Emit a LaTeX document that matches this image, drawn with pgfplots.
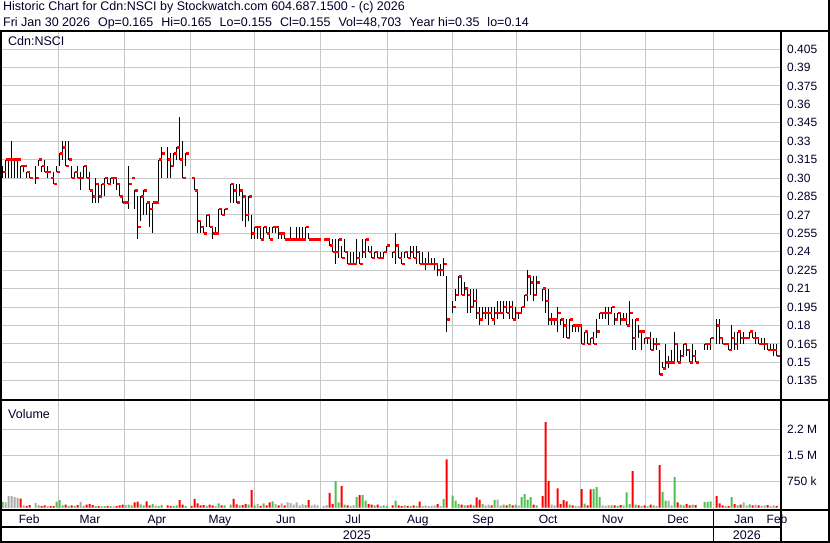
\documentclass[border=0pt]{standalone}
\usepackage{fontspec}
\setmainfont{Liberation Sans}
\usepackage{pgfplots}
\pgfplotsset{compat=1.18}
\usepackage{pgfplotstable}

\definecolor{gridc}{RGB}{200,200,200}
\definecolor{txt}{RGB}{0,0,40}
\definecolor{upc}{RGB}{80,190,80}
\definecolor{dnc}{RGB}{255,0,0}
\definecolor{flatc}{RGB}{170,170,170}

% close tick: small red block to the right of the bar
\pgfdeclareplotmark{ctick}{\pgfpathrectangle{\pgfpoint{0.4pt}{-1.2pt}}{\pgfpoint{2.6pt}{2.4pt}}\pgfusepathqfill}

\pgfplotsset{
  panel/.style={scale only axis, width=780pt, xmin=-0.9, xmax=259.1,
    axis line style={draw=none}, tick style={draw=none}, major tick length=0pt,
    xmajorgrids, ymajorgrids, grid style={gridc, line width=1pt},
    xtick={18.6,40.6,62.6,83.8,105.8,128.3,149.9,171.1,192.7,214.4,237.0},
    xticklabels={}, yticklabel pos=right,
    yticklabel style={anchor=west, inner sep=0pt, xshift=7pt, text=txt,
      font=\fontsize{12}{14}\selectfont}},
  vol/.style={ybar, bar width=2pt, bar shift=0pt, draw=none, forget plot},
}

% trading day k, high, low, close, volume (thousands), colour (0 flat, 1 up, 2 down)
\pgfplotstableread{
k H L C V c
0 0.31 0.30 0.305 160 1
1 0.315 0.30 0.315 150 0
2 0.315 0.30 0.315 330 0
3 0.33 0.30 0.315 330 0
4 0.315 0.30 0.315 300 0
5 0.315 0.30 0.315 280 0
6 0.31 0.30 0.31 260 2
7 0.31 0.305 0.31 60 0
8 0.305 0.30 0.305 50 2
9 0.305 0.30 0.30 70 2
11 0.31 0.295 0.30 130 0
12 0.315 0.31 0.315 60 1
13 0.31 0.305 0.31 40 2
14 0.315 0.305 0.305 60 2
15 0.31 0.30 0.305 40 0
16 0.30 0.30 0.30 50 2
17 0.305 0.295 0.295 40 2
18 0.31 0.305 0.305 170 1
19 0.32 0.31 0.32 210 1
20 0.33 0.315 0.325 60 1
21 0.33 0.31 0.31 80 2
22 0.33 0.315 0.315 40 1
23 0.31 0.30 0.30 60 2
24 0.305 0.30 0.305 50 1
25 0.31 0.30 0.30 70 2
26 0.305 0.29 0.30 160 0
27 0.31 0.30 0.31 50 1
28 0.31 0.30 0.30 80 2
29 0.305 0.29 0.29 100 2
30 0.29 0.28 0.285 70 2
31 0.30 0.28 0.295 40 1
32 0.295 0.28 0.285 40 2
33 0.295 0.285 0.295 30 1
34 0.30 0.285 0.30 40 1
35 0.30 0.295 0.295 50 2
36 0.30 0.295 0.30 40 1
37 0.30 0.295 0.30 30 0
38 0.30 0.29 0.295 40 2
39 0.295 0.285 0.285 60 2
40 0.285 0.28 0.28 80 2
41 0.28 0.28 0.28 70 0
42 0.31 0.275 0.295 80 1
43 0.30 0.30 0.30 60 1
44 0.29 0.275 0.29 150 2
45 0.285 0.25 0.26 170 2
46 0.285 0.265 0.285 90 1
47 0.29 0.27 0.29 60 1
48 0.28 0.27 0.28 180 2
49 0.28 0.26 0.275 60 2
50 0.28 0.255 0.28 100 1
51 0.28 0.28 0.28 60 0
52 0.315 0.28 0.315 50 1
53 0.325 0.30 0.32 70 1
55 0.325 0.30 0.315 60 2
56 0.32 0.30 0.31 40 2
57 0.32 0.31 0.32 50 1
58 0.325 0.315 0.325 60 1
59 0.35 0.315 0.315 210 2
60 0.33 0.30 0.30 80 2
61 0.32 0.31 0.32 40 1
63 0.30 0.30 0.30 50 2
64 0.30 0.29 0.29 250 2
65 0.29 0.255 0.265 120 2
66 0.265 0.255 0.26 60 2
67 0.26 0.255 0.255 70 2
68 0.27 0.26 0.27 50 1
69 0.27 0.26 0.26 80 2
70 0.26 0.25 0.255 60 2
71 0.26 0.255 0.255 40 0
72 0.275 0.255 0.275 120 1
73 0.275 0.27 0.27 60 2
74 0.275 0.27 0.275 60 1
76 0.295 0.28 0.295 80 1
77 0.295 0.28 0.29 250 2
78 0.295 0.28 0.28 90 2
79 0.295 0.285 0.29 60 1
80 0.29 0.265 0.285 70 2
81 0.285 0.26 0.27 100 2
82 0.285 0.265 0.285 80 1
83 0.27 0.25 0.255 500 2
84 0.26 0.25 0.26 60 1
85 0.26 0.25 0.26 100 0
86 0.26 0.25 0.25 50 2
87 0.26 0.25 0.26 120 1
88 0.26 0.255 0.255 60 2
89 0.26 0.25 0.25 150 2
90 0.26 0.255 0.26 180 1
91 0.26 0.255 0.26 100 0
92 0.26 0.25 0.255 60 2
93 0.255 0.25 0.255 120 0
94 0.255 0.25 0.25 60 2
95 0.25 0.25 0.25 150 0
96 0.26 0.25 0.25 130 0
97 0.25 0.25 0.25 80 0
98 0.26 0.25 0.25 150 0
99 0.26 0.25 0.25 60 0
100 0.26 0.25 0.25 90 0
101 0.26 0.25 0.26 70 1
102 0.255 0.25 0.25 210 2
103 0.25 0.25 0.25 60 0
104 0.25 0.25 0.25 80 0
105 0.25 0.25 0.25 60 0
107 0.25 0.25 0.25 50 0
108 0.25 0.25 0.25 70 0
109 0.25 0.245 0.245 420 2
110 0.25 0.24 0.24 100 2
111 0.25 0.23 0.24 760 1
112 0.25 0.235 0.25 150 1
113 0.245 0.235 0.235 615 2
114 0.25 0.24 0.24 80 1
115 0.24 0.23 0.23 60 2
116 0.24 0.23 0.23 50 0
117 0.24 0.23 0.23 70 0
118 0.25 0.23 0.235 300 1
119 0.24 0.23 0.23 355 2
120 0.25 0.235 0.24 355 1
121 0.25 0.235 0.25 200 1
122 0.245 0.24 0.24 100 2
123 0.245 0.235 0.235 80 2
124 0.24 0.235 0.24 60 1
125 0.24 0.235 0.235 80 2
126 0.24 0.235 0.235 40 0
127 0.24 0.235 0.24 60 1
128 0.245 0.24 0.245 50 1
130 0.24 0.235 0.24 60 2
131 0.255 0.23 0.245 200 1
132 0.245 0.235 0.235 60 2
133 0.24 0.23 0.23 40 2
134 0.24 0.235 0.24 60 1
135 0.24 0.235 0.235 50 2
136 0.245 0.235 0.24 40 1
137 0.245 0.235 0.235 60 2
138 0.245 0.23 0.24 50 1
139 0.24 0.23 0.23 170 2
140 0.24 0.23 0.23 50 0
141 0.235 0.225 0.23 60 0
142 0.24 0.23 0.23 40 0
143 0.235 0.23 0.23 50 0
144 0.235 0.225 0.23 60 0
145 0.23 0.22 0.225 100 2
146 0.23 0.22 0.225 40 0
147 0.235 0.22 0.23 240 1
148 0.22 0.175 0.185 1390 2
150 0.20 0.19 0.195 345 1
151 0.21 0.20 0.205 200 1
152 0.22 0.205 0.22 100 1
153 0.22 0.205 0.205 80 2
154 0.215 0.205 0.21 60 1
155 0.21 0.19 0.205 60 2
156 0.21 0.19 0.195 80 2
157 0.21 0.195 0.20 60 1
158 0.21 0.185 0.19 290 2
159 0.195 0.18 0.185 230 2
160 0.195 0.185 0.19 100 1
161 0.195 0.185 0.19 60 0
162 0.195 0.18 0.19 80 0
163 0.195 0.185 0.185 60 2
164 0.195 0.18 0.19 220 1
165 0.20 0.185 0.19 230 0
166 0.20 0.19 0.19 60 0
167 0.20 0.185 0.195 80 1
168 0.20 0.19 0.19 60 2
169 0.20 0.185 0.195 100 1
170 0.20 0.185 0.185 60 2
171 0.195 0.185 0.19 80 1
172 0.19 0.185 0.19 60 0
173 0.195 0.19 0.195 300 1
174 0.205 0.195 0.205 385 1
175 0.225 0.20 0.22 230 1
176 0.22 0.205 0.215 300 1
177 0.22 0.20 0.205 80 2
178 0.22 0.205 0.215 60 1
180 0.21 0.20 0.21 325 2
181 0.21 0.19 0.20 2460 2
182 0.21 0.18 0.185 760 2
183 0.19 0.18 0.185 80 0
184 0.185 0.18 0.185 60 0
185 0.195 0.175 0.19 550 2
186 0.185 0.18 0.185 100 2
187 0.185 0.17 0.18 210 2
188 0.185 0.17 0.17 180 2
189 0.185 0.17 0.185 80 1
190 0.18 0.175 0.18 60 2
191 0.18 0.175 0.18 50 0
192 0.18 0.175 0.18 40 0
193 0.18 0.165 0.165 530 2
194 0.175 0.165 0.175 110 1
195 0.175 0.165 0.165 60 2
196 0.17 0.165 0.17 520 2
197 0.175 0.165 0.165 540 1
198 0.185 0.17 0.175 590 1
199 0.19 0.185 0.19 300 1
200 0.19 0.185 0.19 60 0
201 0.195 0.185 0.19 50 0
202 0.195 0.18 0.19 70 0
203 0.195 0.19 0.195 60 1
204 0.19 0.18 0.185 60 2
205 0.19 0.185 0.19 50 1
206 0.19 0.18 0.185 70 2
207 0.19 0.185 0.185 60 0
208 0.19 0.18 0.18 440 1
209 0.20 0.18 0.19 100 1
210 0.185 0.16 0.17 1050 2
211 0.185 0.16 0.185 80 1
212 0.18 0.17 0.175 60 2
213 0.175 0.16 0.175 50 0
214 0.17 0.165 0.17 60 2
215 0.17 0.165 0.17 40 0
216 0.175 0.16 0.16 80 2
217 0.17 0.16 0.165 60 1
218 0.17 0.16 0.165 50 0
219 0.16 0.14 0.14 1220 2
220 0.15 0.145 0.145 450 1
221 0.165 0.145 0.15 200 1
222 0.155 0.145 0.15 200 0
223 0.16 0.15 0.15 60 0
224 0.175 0.15 0.165 875 1
225 0.165 0.15 0.15 150 2
226 0.16 0.15 0.155 80 1
227 0.165 0.155 0.165 60 1
228 0.165 0.155 0.16 100 2
229 0.16 0.15 0.15 60 2
230 0.165 0.15 0.155 80 1
231 0.16 0.15 0.15 70 2
234 0.165 0.16 0.165 160 1
235 0.165 0.16 0.165 160 1
236 0.17 0.16 0.17 180 1
238 0.185 0.165 0.18 325 2
239 0.185 0.165 0.17 120 2
240 0.17 0.165 0.165 60 2
241 0.165 0.165 0.165 50 0
242 0.165 0.16 0.16 40 2
243 0.18 0.16 0.17 300 1
244 0.175 0.16 0.165 100 2
245 0.175 0.16 0.175 60 1
246 0.175 0.165 0.17 80 2
247 0.175 0.165 0.17 150 0
248 0.17 0.17 0.17 60 0
249 0.175 0.17 0.175 90 1
250 0.175 0.17 0.17 60 2
251 0.175 0.165 0.17 80 0
252 0.17 0.165 0.165 60 2
253 0.17 0.165 0.165 50 0
254 0.17 0.16 0.165 60 0
255 0.165 0.16 0.16 70 2
256 0.165 0.16 0.16 40 0
257 0.165 0.155 0.16 60 0
258 0.165 0.155 0.155 49 2
}\bars

\begin{document}
\begin{tikzpicture}[x=1pt, y=1pt, font=\fontsize{12.5}{14}\selectfont]
\useasboundingbox (0,0) rectangle (830,-543);

% price panel
\begin{axis}[panel, at={(0pt,-399pt)}, anchor=south west, height=367pt,
  ymin=0.12013, ymax=0.41885,
  ytick={0.135,0.15,0.165,0.18,0.195,0.21,0.225,0.24,0.255,0.27,0.285,0.30,0.315,0.33,0.345,0.36,0.375,0.39,0.405},
  yticklabels={0.135,0.15,0.165,0.18,0.195,0.21,0.225,0.24,0.255,0.27,0.285,0.30,0.315,0.33,0.345,0.36,0.375,0.39,0.405}]
\addplot[draw=none, mark=none, forget plot, error bars/.cd, y dir=both, y explicit, error mark=none,
  error bar style={draw=black, solid, line width=1pt}]
  table[x=k, y expr={(\thisrow{H}+\thisrow{L})/2}, y error expr={(\thisrow{H}-\thisrow{L})/2}] {\bars};
\addplot[only marks, mark=ctick, mark options={fill=dnc, draw=none}] table[x=k, y=C] {\bars};
\end{axis}

% volume panel
\begin{axis}[panel, at={(0pt,-509pt)}, anchor=south west, height=108pt,
  ymin=-43, ymax=3072, ytick={750,1500,2250}, yticklabels={750 k,1.5 M,2.2 M},
  extra x ticks={8.8,29.1,51.4,72.4,94.4,116.8,138.4,160.1,181.8,203.3,225.1,247.1,258.1},
  extra x tick labels={Feb,Mar,Apr,May,Jun,Jul,Aug,Sep,Oct,Nov,Dec,Jan,Feb},
  extra x tick style={grid=none, xticklabel style={anchor=base, inner sep=0pt, yshift=-14.3pt, text=txt, font=\fontsize{12}{14}\selectfont}}]
\addplot[vol, fill=flatc] table[x=k, y expr={ifthenelse(\thisrow{c}==0,\thisrow{V},0)}] {\bars};
\addplot[vol, fill=upc] table[x=k, y expr={ifthenelse(\thisrow{c}==1,\thisrow{V},0)}] {\bars};
\addplot[vol, fill=dnc] table[x=k, y expr={ifthenelse(\thisrow{c}==2,\thisrow{V},0)}] {\bars};
\end{axis}

% texts
\node[anchor=base west, inner sep=0pt, text=txt] at (3,-11) {Historic Chart for Cdn:NSCI by Stockwatch.com 604.687.1500 - (c) 2026};
\node[anchor=base west, inner sep=0pt, text=txt] at (3,-27) {Fri Jan 30 2026\hspace{8pt}Op=0.165\hspace{8pt}Hi=0.165\hspace{8pt}Lo=0.155\hspace{8pt}Cl=0.155\hspace{8pt}Vol=48,703\hspace{8pt}Year hi=0.35\hspace{8pt}lo=0.14};
\node[anchor=base west, inner sep=0pt, text=txt] at (8,-46) {Cdn:NSCI};
\node[anchor=base west, inner sep=0pt, text=txt] at (8,-418) {Volume};
\node[anchor=base, inner sep=0pt, text=txt] at (356.8,-539) {2025};
\node[anchor=base, inner sep=0pt, text=txt] at (746.8,-539) {2026};

% frame
\begin{scope}[line width=2pt, line cap=rect]
\draw (1,-31) -- (1,-542);
\draw (0,-31) -- (829,-31);
\draw (0,-400) -- (829,-400);
\draw (0,-510) -- (829,-510);
\draw (0,-527) -- (780.5,-527);
\draw (0,-542) -- (829,-542);
\draw (780.5,-31) -- (780.5,-542);
\draw (829,-1) -- (829,-542);
\end{scope}
\draw[line width=1.5pt] (713.6,-510) -- (713.6,-542);
\end{tikzpicture}
\end{document}
